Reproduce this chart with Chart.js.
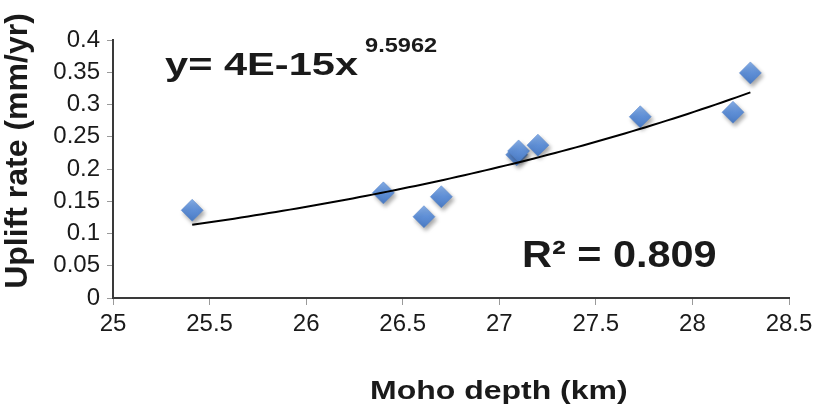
<!DOCTYPE html>
<html>
<head>
<meta charset="utf-8">
<script src="https://cdn.jsdelivr.net/npm/chart.js@4.4.1/dist/chart.umd.min.js"></script>
<style>
  html, body { margin: 0; padding: 0; background: #ffffff; }
  #wrap { width: 822px; height: 408px; position: relative; }
</style>
</head>
<body>
<div id="wrap"><canvas id="chart" width="822" height="408"></canvas></div>
<script>
// Moho depth (km) vs. uplift rate (mm/yr) at each station
const mohoDepth = [25.41, 26.40, 26.61, 26.70, 27.09, 27.10, 27.20, 27.73, 28.21, 28.30];
const upliftRate = [0.136, 0.163, 0.126, 0.157, 0.222, 0.228, 0.237, 0.281, 0.288, 0.349];

// Axis tick settings
const xTicks = [25, 25.5, 26, 26.5, 27, 27.5, 28, 28.5];
const yTicks = [0, 0.05, 0.1, 0.15, 0.2, 0.25, 0.3, 0.35, 0.4];

// Power-law trend line y = a * x^b (exponent as reported; coefficient fitted in log space)
const trendExponent = 9.5962;
const rSquared = 0.809;

const FONT = "'Liberation Sans', Arial, Helvetica, sans-serif";

function mean(arr) { return arr.reduce((s, v) => s + v, 0) / arr.length; }
const lnA = mean(upliftRate.map(Math.log)) - trendExponent * mean(mohoDepth.map(Math.log));
const trendCoef = Math.exp(lnA);

const xMinData = Math.min(...mohoDepth);
const xMaxData = Math.max(...mohoDepth);
const trendPoints = [];
const nSteps = 80;
for (let i = 0; i <= nSteps; i++) {
  const x = xMinData + (xMaxData - xMinData) * i / nSteps;
  trendPoints.push({ x: x, y: trendCoef * Math.pow(x, trendExponent) });
}

const points = mohoDepth.map((x, i) => ({ x: x, y: upliftRate[i] }));

function coefLabel(v) {
  // e.g. 3.7e-15 -> "4E-15"
  return v.toExponential(0).replace('e', 'E').replace('+', '');
}

// Diamond fill with a soft top-to-bottom gradient
function diamondFill(c) {
  const solid = '#5f8fd6';
  if (c.type !== 'data' || !c.parsed) return solid;
  const sy = c.chart.scales.y;
  if (!sy) return solid;
  const py = sy.getPixelForValue(c.parsed.y);
  if (!isFinite(py)) return solid;
  const g = c.chart.ctx.createLinearGradient(0, py - 11, 0, py + 11);
  g.addColorStop(0, '#86aee6');
  g.addColorStop(0.5, '#5f8fd6');
  g.addColorStop(1, '#4a7bc4');
  return g;
}

// Drop shadow under the diamond markers
const markerShadow = {
  id: 'markerShadow',
  beforeDatasetDraw(chart, args) {
    if (args.index !== 1) return;
    const ctx = chart.ctx;
    ctx.save();
    ctx.shadowColor = 'rgba(0,0,0,0.35)';
    ctx.shadowBlur = 4;
    ctx.shadowOffsetX = 2;
    ctx.shadowOffsetY = 3;
  },
  afterDatasetDraw(chart, args) {
    if (args.index !== 1) return;
    chart.ctx.restore();
  }
};

function drawText(ctx, text, x, y, font, sx) {
  ctx.save();
  ctx.font = font;
  ctx.translate(x, y);
  ctx.scale(sx, 1);
  ctx.fillText(text, 0, 0);
  ctx.restore();
}

// Axis titles, fitted equation and R² annotation
const annotations = {
  id: 'annotations',
  afterDraw(chart) {
    const ctx = chart.ctx;
    ctx.save();
    ctx.fillStyle = '#1a1a1a';
    ctx.textBaseline = 'alphabetic';
    ctx.textAlign = 'left';

    // equation
    drawText(ctx, 'y= ' + coefLabel(trendCoef) + 'x', 165, 75, 'bold 32px ' + FONT, 1.3);
    drawText(ctx, trendExponent.toFixed(4), 365, 52, 'bold 20px ' + FONT, 1.18);

    // R²
    drawText(ctx, 'R\u00B2 = ' + rSquared.toFixed(3), 522, 267, 'bold 37px ' + FONT, 1.12);

    // x title
    drawText(ctx, 'Moho depth (km)', 370, 399, 'bold 26px ' + FONT, 1.23);

    // y title
    ctx.save();
    ctx.translate(27, 151);
    ctx.rotate(-Math.PI / 2);
    ctx.textAlign = 'center';
    ctx.font = 'bold 32px ' + FONT;
    ctx.fillText('Uplift rate (mm/yr)', 0, 0);
    ctx.restore();

    ctx.restore();
  }
};

new Chart(document.getElementById('chart'), {
  type: 'scatter',
  data: {
    datasets: [
      {
        type: 'line',
        label: 'Power trend',
        data: trendPoints,
        borderColor: '#000000',
        borderWidth: 2,
        pointRadius: 0,
        fill: false,
        tension: 0,
        order: 0
      },
      {
        label: 'Uplift rate',
        data: points,
        pointStyle: 'rectRot',
        pointRadius: 11,
        pointHoverRadius: 11,
        backgroundColor: diamondFill,
        borderColor: '#5583c8',
        borderWidth: 0.5,
        order: 1
      }
    ]
  },
  options: {
    responsive: false,
    animation: false,
    events: [],
    layout: { padding: { left: 0, right: 33, top: 40, bottom: 0 } },
    plugins: {
      legend: { display: false },
      tooltip: { enabled: false }
    },
    scales: {
      x: {
        type: 'linear',
        min: xTicks[0],
        max: xTicks[xTicks.length - 1],
        afterBuildTicks(scale) { scale.ticks = xTicks.map(v => ({ value: v })); },
        afterFit(scale) { scale.height = 110; },
        border: { display: true, color: '#3a3a3a', width: 2 },
        grid: { display: true, drawOnChartArea: false, drawTicks: true, tickLength: 7, color: '#9a9a9a', lineWidth: 1 },
        ticks: {
          color: '#1a1a1a',
          padding: 5,
          maxRotation: 0,
          font: { family: FONT, size: 24 },
          callback: v => String(v)
        }
      },
      y: {
        type: 'linear',
        min: yTicks[0],
        max: yTicks[yTicks.length - 1],
        afterBuildTicks(scale) { scale.ticks = yTicks.map(v => ({ value: v })); },
        afterFit(scale) { scale.width = 113; },
        border: { display: true, color: '#3a3a3a', width: 2 },
        grid: { display: true, drawOnChartArea: false, drawTicks: true, tickLength: 6, color: '#9a9a9a', lineWidth: 1 },
        ticks: {
          color: '#1a1a1a',
          padding: 7,
          font: { family: FONT, size: 24 },
          callback: v => String(v)
        }
      }
    }
  },
  plugins: [markerShadow, annotations]
});
</script>
</body>
</html>
